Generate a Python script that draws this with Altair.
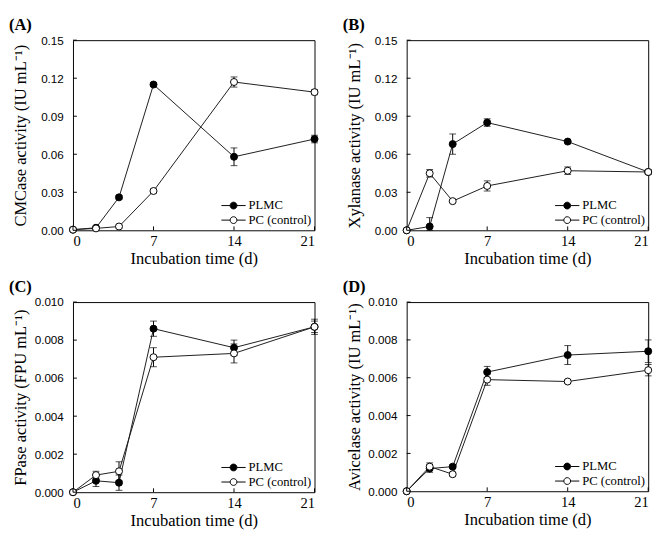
import altair as alt
import pandas as pd

days = [0, 2, 4, 7, 14, 21]
series = ["PLMC", "PC (control)"]
x_ticks = [0, 7, 14, 21]

# (A) CMCase
cmc_plmc = [0.0005, 0.002, 0.026, 0.115, 0.058, 0.072]
cmc_plmc_err = [0.0, 0.0005, 0.0015, 0.0015, 0.007, 0.003]
cmc_pc = [0.0005, 0.0015, 0.003, 0.031, 0.117, 0.109]
cmc_pc_err = [0.0, 0.0005, 0.001, 0.0015, 0.004, 0.002]

# (B) Xylanase
xyl_plmc = [0.0, 0.003, 0.068, 0.085, 0.070, 0.046]
xyl_plmc_err = [0.0, 0.007, 0.008, 0.003, 0.001, 0.002]
xyl_pc = [0.0, 0.045, 0.023, 0.035, 0.047, 0.046]
xyl_pc_err = [0.0, 0.003, 0.001, 0.004, 0.003, 0.001]

# (C) FPase
fp_plmc = [0.0, 0.0006, 0.0005, 0.0086, 0.0076, 0.0087]
fp_plmc_err = [0.0, 0.0003, 0.0004, 0.0004, 0.0004, 0.0004]
fp_pc = [0.0, 0.0009, 0.0011, 0.0071, 0.0073, 0.0087]
fp_pc_err = [0.0, 0.0002, 0.0005, 0.0005, 0.0005, 0.0003]

# (D) Avicelase
av_plmc = [0.0, 0.0012, 0.0013, 0.0063, 0.0072, 0.0074]
av_plmc_err = [0.0, 0.0002, 0.0001, 0.0003, 0.0005, 0.0006]
av_pc = [0.0, 0.0013, 0.0009, 0.0059, 0.0058, 0.0064]
av_pc_err = [0.0, 0.0002, 0.0001, 0.0003, 0.0001, 0.0003]

yticks_big = [0.0, 0.03, 0.06, 0.09, 0.12, 0.15]
yticks_small = [0.0, 0.002, 0.004, 0.006, 0.008, 0.010]

SERIF = "Liberation Serif"
SANS = "Liberation Sans"
LEGEND_SYMBOL = "M-2.5,0H-0.7A0.7,0.7 0 1,1 0.7,0A0.7,0.7 0 1,1 -0.7,0M0.7,0H2.5"


def panel(label, ytitle, plmc, plmc_err, pc, pc_err, yticks, fmt, w, h):
    df = pd.DataFrame({
        "day": days * 2,
        "series": [series[0]] * len(days) + [series[1]] * len(days),
        "value": plmc + pc,
        "err": plmc_err + pc_err,
    })
    df["lo"] = (df["value"] - df["err"]).clip(lower=0)
    df["hi"] = df["value"] + df["err"]
    xt = pd.DataFrame({"t": x_ticks})
    yt = pd.DataFrame({"t": yticks})

    xscale = alt.Scale(domain=[0, 21], nice=False, zero=False)
    yscale = alt.Scale(domain=[yticks[0], yticks[-1]], nice=False)
    xaxis = alt.Axis(values=x_ticks, title="Incubation time (d)", labelFont=SERIF,
                     labelFontSize=15, titleFont=SERIF, titleFontSize=17,
                     titleFontWeight="normal", labelPadding=4, titlePadding=2,
                     ticks=False, domain=False, grid=False, labelColor="black",
                     titleColor="black", labelOverlap=False)
    yaxis = alt.Axis(values=yticks, format=fmt, title=ytitle, labelFont=SANS,
                     labelFontSize=12, titleFont=SERIF, titleFontSize=17,
                     titleFontWeight="normal", labelPadding=10, titlePadding=5,
                     minExtent=40, maxExtent=40, ticks=False, domain=False,
                     grid=False, labelColor="black", titleColor="black",
                     labelOverlap=False)

    x = alt.X("day:Q", scale=xscale, axis=xaxis)
    base = alt.Chart(df)
    lines = base.mark_line(color="#1a1a1a", strokeWidth=1).encode(
        x=x, y=alt.Y("value:Q", scale=yscale, axis=yaxis), detail="series:N")
    errs = base.mark_errorbar(ticks=True, size=7, thickness=1, color="black").encode(
        x=x, y=alt.Y("lo:Q", scale=yscale, axis=yaxis), y2="hi:Q")
    pts = base.mark_point(filled=True, size=52, stroke="black", strokeWidth=1,
                          opacity=1).encode(
        x=x, y=alt.Y("value:Q", scale=yscale, axis=yaxis),
        fill=alt.Fill("series:N", scale=alt.Scale(domain=series, range=["black", "white"]),
                      legend=alt.Legend(title=None, orient="bottom-right", offset=3,
                                        padding=0, symbolType=LEGEND_SYMBOL,
                                        symbolSize=100, symbolStrokeColor="black",
                                        symbolStrokeWidth=1, labelFont=SERIF,
                                        labelFontSize=13, labelColor="black",
                                        labelOffset=9, rowPadding=1)))
    ytk = alt.Chart(yt).mark_rule(color="black", strokeWidth=1).encode(
        y=alt.Y("t:Q", scale=yscale, axis=yaxis), x=alt.value(0), x2=alt.value(4))
    xtk = alt.Chart(xt).mark_rule(color="black", strokeWidth=1).encode(
        x=alt.X("t:Q", scale=xscale, axis=xaxis), y=alt.value(h), y2=alt.value(h - 4))

    return alt.layer(lines, errs, pts, ytk, xtk).properties(
        width=w, height=h,
        title=alt.TitleParams(label, anchor="start", frame="bounds", font=SERIF,
                              fontSize=17, fontWeight="bold", color="black",
                              offset=0, dx=-3),
    )


pA = panel("(A)", "CMCase activity (IU mL⁻¹)", cmc_plmc, cmc_plmc_err, cmc_pc, cmc_pc_err,
           yticks_big, ".2f", 249, 196)
pB = panel("(B)", "Xylanase activity (IU mL⁻¹)", xyl_plmc, xyl_plmc_err, xyl_pc, xyl_pc_err,
           yticks_big, ".2f", 249, 196)
pC = panel("(C)", "FPase activity (FPU mL⁻¹)", fp_plmc, fp_plmc_err, fp_pc, fp_pc_err,
           yticks_small, ".3f", 249, 196)
pD = panel("(D)", "Avicelase activity (IU mL⁻¹)", av_plmc, av_plmc_err, av_pc, av_pc_err,
           yticks_small, ".3f", 249, 195)

row1 = alt.hconcat(pA, pB, spacing=21).resolve_scale(fill="independent")
row2 = alt.hconcat(pC, pD, spacing=21).resolve_scale(fill="independent")
chart = alt.vconcat(row1, row2, spacing=11).resolve_scale(fill="independent").configure(
    padding=0, background="white"
).configure_view(stroke="black", strokeWidth=1)

chart.save("out.html", embed_options={"renderer": "svg", "actions": False})
